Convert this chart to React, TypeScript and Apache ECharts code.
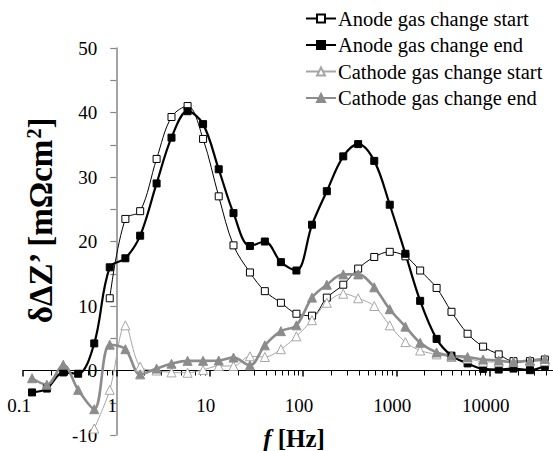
import React, { useEffect, useRef } from "react";
import * as echarts from "echarts";

const freqs = [0.125, 0.18, 0.27, 0.39, 0.58, 0.85, 1.25, 1.8, 2.7, 3.9, 5.8, 8.5, 12.5, 18, 27, 39, 58, 85, 125, 180, 270, 390, 580, 850, 1250, 1800, 2700, 3900, 5800, 8500, 12500, 18000, 27000, 39000];

const anodeStart = [null, null, null, null, null, 11.2, 23.5, 24.7, 32.8, 39.3, 41.0, 35.9, 27.0, 19.4, 15.2, 12.3, 10.5, 8.8, 8.5, 11.3, 13.3, 15.8, 17.6, 18.4, 17.7, 15.5, 12.8, 9.1, 5.7, 3.7, 2.5, 1.45, 1.45, 1.7];
const anodeEnd = [-3.4, -2.8, -0.3, -0.5, 4.2, 16.0, 17.4, 20.9, 29.0, 36.1, 40.2, 38.2, 31.2, 24.4, 19.3, 20.0, 16.8, 15.5, 22.6, 27.8, 33.2, 35.1, 32.5, 25.7, 18.1, 10.8, 4.9, 2.3, 1.1, 0.25, 0.15, 0.3, 0.05, 0.7];
const cathodeStart = [null, null, null, null, -9.0, -3.0, 7.0, 0.6, 0.0, -0.3, -0.35, 0.1, 0.7, 0.7, 2.2, 2.1, 3.3, 5.3, 7.8, 10.5, 11.9, 11.2, 10.0, 7.0, 4.4, 3.1, 2.5, 2.1, 1.85, 1.35, 1.3, 1.35, 1.45, 1.45];
const cathodeEnd = [-1.2, -2.2, 0.9, -3.0, -6.0, 4.0, 3.3, -0.6, 0.3, 1.05, 1.5, 1.5, 1.55, 2.0, 0.8, 3.9, 6.1, 7.0, 11.3, 13.3, 14.9, 14.9, 12.9, 9.5, 6.8, 4.3, 2.8, 2.3, 2.1, 1.7, 1.55, 1.3, 1.55, 1.8];

const seriesNames = ["Anode gas change start", "Anode gas change end", "Cathode gas change start", "Cathode gas change end"];
const xTickLabels = ["0.1", "1", "10", "100", "1000", "10000"];

const FONT = "'Liberation Serif', 'Times New Roman', serif";

function pairs(vals: (number | null)[]) {
  const out: [number, number][] = [];
  vals.forEach((v, i) => {
    if (v !== null) out.push([freqs[i], v]);
  });
  return out;
}

export default function App() {
  const ref = useRef<HTMLDivElement>(null);
  useEffect(() => {
    if (!ref.current) return;
    const chart = echarts.init(ref.current, undefined, { renderer: "svg" });
    const mk = (name: string, vals: (number | null)[], symbol: string, size: number, color: string, fill: string, width: number) => ({
      name,
      type: "line",
      data: pairs(vals),
      smooth: 0.35,
      symbol,
      symbolSize: size,
      showSymbol: true,
      lineStyle: { color, width },
      itemStyle: { color: fill, borderColor: color, borderWidth: 1 },
      emphasis: { disabled: true },
      clip: false,
    });
    chart.setOption({
      animation: false,
      grid: { left: 23, top: 48, width: 560, height: 387, outerBoundsMode: "none", containLabel: false },
      legend: {
        orient: "vertical",
        left: 305,
        top: 8,
        padding: 0,
        itemWidth: 30,
        itemHeight: 10,
        itemGap: 5.5,
        textStyle: { fontFamily: FONT, fontSize: 20.5, color: "#000", lineHeight: 20, padding: [0, 0, 0, -3] },
        data: seriesNames,
      },
      xAxis: {
        type: "log",
        logBase: 10,
        min: 0.1,
        max: 100000,
        position: "bottom",
        offset: -64.5,
        axisLine: { onZero: false, lineStyle: { color: "#000", width: 1.2 } },
        axisTick: { show: true, inside: false, length: 6, lineStyle: { color: "#000", width: 1.5 } },
        minorTick: { show: true, splitNumber: 9, length: 5, lineStyle: { color: "#000", width: 1 } },
        splitLine: { show: false },
        minorSplitLine: { show: false },
        axisLabel: {
          margin: 25,
          fontFamily: FONT,
          fontSize: 19,
          color: "#000",
          padding: [0, 8, 0, 0],
          formatter: (v: number) => {
            const s = String(v);
            return xTickLabels.indexOf(s) >= 0 ? s : "";
          },
        },
      },
      yAxis: {
        type: "value",
        min: -10,
        max: 50,
        interval: 10,
        position: "left",
        offset: -93.3,
        axisLine: { show: true, onZero: false, lineStyle: { color: "#868686", width: 1.5 } },
        axisTick: { show: true, inside: false, length: 6, lineStyle: { color: "#868686", width: 1.2 } },
        minorTick: { show: true, splitNumber: 2, length: 6, lineStyle: { color: "#868686", width: 1.2 } },
        splitLine: { show: false },
        axisLabel: { margin: 19, fontFamily: FONT, fontSize: 19, color: "#000" },
      },
      graphic: [
        {
          type: "text",
          x: 41,
          y: 221,
          rotation: Math.PI / 2,
          style: {
            text: "δΔZ’ [mΩcm{sup|2}]",
            align: "center",
            verticalAlign: "middle",
            font: `bold 33px ${FONT}`,
            fill: "#000",
            rich: {
              sup: { fontSize: 20, fontWeight: "bold", fontFamily: FONT, verticalAlign: "top", padding: [0, 0, 14, 0] },
            },
          },
        },
        {
          type: "text",
          x: 294,
          y: 438,
          style: {
            text: "{i|f} [Hz]",
            align: "center",
            verticalAlign: "middle",
            font: `bold 25px ${FONT}`,
            fill: "#000",
            rich: {
              i: { fontStyle: "italic", fontWeight: "bold", fontSize: 25, fontFamily: FONT },
            },
          },
        },
      ],
      series: [
        mk(seriesNames[0], anodeStart, "rect", 7, "#000", "#fff", 1),
        mk(seriesNames[1], anodeEnd, "rect", 7, "#000", "#000", 2.2),
        mk(seriesNames[2], cathodeStart, "triangle", 9, "#a6a6a6", "#fff", 1),
        mk(seriesNames[3], cathodeEnd, "triangle", 9, "#8c8c8c", "#8c8c8c", 2.6),
      ],
    });
    return () => chart.dispose();
  }, []);
  return (
    <div style={{ position: "absolute", left: 0, top: 0, width: 553, height: 451, overflow: "hidden", background: "#fff" }}>
      <div ref={ref} style={{ width: 600, height: 451 }} />
    </div>
  );
}
